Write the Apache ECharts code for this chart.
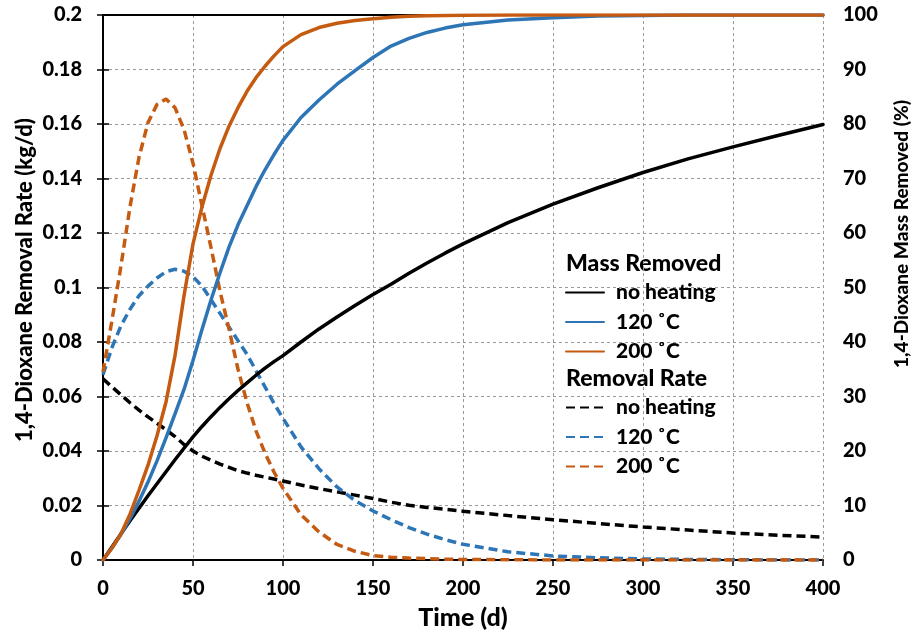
<!DOCTYPE html>
<html>
<head>
<meta charset="utf-8">
<script src="https://cdn.jsdelivr.net/npm/echarts@6/dist/echarts.min.js"></script>
<style>
html,body{margin:0;padding:0;background:#fff;}
#c{width:917px;height:636px;}
</style>
</head>
<body>
<div id="c"></div>
<script>
// Time (d)
var times = [0,5,10,15,20,25,30,35,40,45,50,55,60,65,70,75,80,85,90,95,100,110,120,130,140,150,160,170,180,190,200,225,250,275,300,325,350,375,400];

// Mass removed (%) - right axis
var massNoHeat = [0,2.4,4.8,7.2,9.5,11.8,14.0,16.2,18.4,20.5,22.6,24.5,26.3,28.0,29.6,31.1,32.5,33.9,35.2,36.4,37.5,40.0,42.4,44.6,46.7,48.7,50.6,52.6,54.5,56.3,58.0,61.9,65.3,68.3,71.1,73.6,75.8,77.9,79.9];
var mass120 = [0,2.2,4.7,7.6,10.8,14.3,18.2,22.4,26.8,31.3,36.6,42.3,47.7,52.7,57.4,61.5,65.0,68.5,71.6,74.4,77.0,81.2,84.4,87.3,89.8,92.2,94.3,95.7,96.8,97.6,98.2,99.1,99.5,99.8,99.9,100,100,100,100];
var mass200 = [0,2.2,4.8,8.4,12.8,17.4,22.8,29.0,37.5,48.5,58.0,64.8,70.6,75.5,79.6,83.0,86.0,88.5,90.6,92.5,94.2,96.4,97.7,98.5,99.0,99.3,99.6,99.75,99.85,99.9,99.95,100,100,100,100,100,100,100,100];

// Removal rate (kg/d) - left axis
var rateNoHeat = [0.0665,0.0635,0.0606,0.0577,0.055,0.0525,0.0502,0.0478,0.0453,0.0424,0.0400,0.0381,0.0366,0.0352,0.0340,0.0328,0.0319,0.0311,0.0304,0.0297,0.0290,0.0275,0.0262,0.0250,0.0238,0.0226,0.0212,0.0201,0.0193,0.0186,0.0179,0.0163,0.0148,0.0134,0.0121,0.0110,0.0099,0.0091,0.0084];
var rate120 = [0.068,0.078,0.086,0.092,0.097,0.1005,0.1035,0.1058,0.1067,0.106,0.104,0.1005,0.0955,0.0905,0.0855,0.0805,0.0755,0.0695,0.0635,0.0575,0.052,0.0415,0.0335,0.0268,0.0218,0.018,0.0148,0.0119,0.0095,0.0075,0.0058,0.003,0.0015,0.0008,0.0004,0.0002,0.0001,0,0];
var rate200 = [0.069,0.088,0.108,0.1296,0.1478,0.1605,0.1672,0.1692,0.1660,0.158,0.1456,0.1300,0.1147,0.0986,0.0848,0.0700,0.0578,0.0474,0.0392,0.0323,0.0263,0.0166,0.0103,0.0057,0.0032,0.0016,0.0010,0.0007,0.0005,0.0003,0.0002,0.0001,0,0,0,0,0,0,0];

var seriesNames = ['no heating', '120 ˚C', '200 ˚C'];
var rateNames = ['rate|no heating', 'rate|120 ˚C', 'rate|200 ˚C'];

var BLACK = '#000000', BLUE = '#2E75B6', ORANGE = '#C55A11';
var FONT = 'Lato';
var W = 900;

function pairs(arr) { return times.map(function (t, i) { return [t, arr[i]]; }); }

var chart = echarts.init(document.getElementById('c'), null, {renderer: 'canvas'});

function solid(name, data, color) {
  return {
    name: name, type: 'line', yAxisIndex: 1, data: pairs(data),
    symbol: 'none', smooth: false, z: 3,
    lineStyle: {color: color, width: 3.5, cap: 'round'},
    itemStyle: {color: color}
  };
}
function dashed(name, data, color) {
  return {
    name: name, type: 'line', yAxisIndex: 0, data: pairs(data),
    symbol: 'none', smooth: false, z: 2,
    lineStyle: {color: color, width: 3.5, type: [9, 5]},
    itemStyle: {color: color}
  };
}

var tickLabel = {color: '#000', fontFamily: FONT, fontWeight: W, fontSize: 20};
var gridLine = {show: true, lineStyle: {color: '#9a9a9a', width: 1, type: [3, 3]}};

var legendText = {color: '#000', fontFamily: FONT, fontWeight: W, fontSize: 21, lineHeight: 20, padding: [0, 0, 0, 7]};

var option = {
  animation: false,
  backgroundColor: '#fff',
  grid: {left: 103, right: 94, top: 15, bottom: 76, containLabel: false},
  xAxis: [{
    type: 'value', min: 0, max: 400, interval: 50, position: 'bottom',
    axisLine: {show: true, lineStyle: {color: '#000', width: 2}},
    axisTick: {show: true, inside: false, length: 6, lineStyle: {color: '#000', width: 1.5}},
    axisLabel: Object.assign({margin: 19}, tickLabel),
    splitLine: gridLine
  }, {
    type: 'value', min: 0, max: 400, position: 'top',
    axisLine: {show: true, onZero: false, lineStyle: {color: '#000', width: 2}},
    axisTick: {show: false}, axisLabel: {show: false}, splitLine: {show: false}
  }],
  yAxis: [{
    type: 'value', min: 0, max: 0.2, interval: 0.02, position: 'left',
    axisLine: {show: true, lineStyle: {color: '#000', width: 2}},
    axisTick: {show: true, inside: false, length: 6, lineStyle: {color: '#000', width: 1.5}},
    axisLabel: Object.assign({margin: 21}, tickLabel),
    splitLine: gridLine
  }, {
    type: 'value', min: 0, max: 100, interval: 10, position: 'right',
    axisLine: {show: true, lineStyle: {color: '#000', width: 2}},
    axisTick: {show: true, inside: false, length: 6, lineStyle: {color: '#000', width: 1.5}},
    axisLabel: Object.assign({margin: 20}, tickLabel),
    splitLine: {show: false}
  }],
  legend: [{
    data: seriesNames, orient: 'vertical', left: 565, top: 282,
    itemWidth: 38, itemHeight: 14, itemGap: 8.5, selectedMode: false,
    itemStyle: {opacity: 0},
    textStyle: legendText, padding: 0
  }, {
    data: rateNames, orient: 'vertical', left: 565, top: 397,
    itemWidth: 38, itemHeight: 14, itemGap: 8.5, selectedMode: false,
    itemStyle: {opacity: 0},
    textStyle: legendText, padding: 0,
    formatter: function (n) { return n.split('|')[1]; }
  }],
  graphic: [
    {type: 'text', x: 566, y: 264, style: {text: 'Mass Removed', fill: '#000', font: W + ' 23px ' + FONT, textAlign: 'left', textVerticalAlign: 'middle'}},
    {type: 'text', x: 566, y: 379, style: {text: 'Removal Rate', fill: '#000', font: W + ' 23px ' + FONT, textAlign: 'left', textVerticalAlign: 'middle'}},
    {type: 'text', x: 25, y: 280, rotation: Math.PI / 2, style: {text: '1,4-Dioxane Removal Rate (kg/d)', fill: '#000', font: W + ' 22px ' + FONT, textAlign: 'center', textVerticalAlign: 'middle'}},
    {type: 'text', x: 902, y: 234, rotation: Math.PI / 2, style: {text: '1,4-Dioxane Mass Removed (%)', fill: '#000', font: W + ' 19px ' + FONT, textAlign: 'center', textVerticalAlign: 'middle'}},
    {type: 'text', x: 463, y: 618, style: {text: 'Time (d)', fill: '#000', font: W + ' 25px ' + FONT, textAlign: 'center', textVerticalAlign: 'middle'}}
  ],
  series: [
    dashed(rateNames[0], rateNoHeat, BLACK),
    dashed(rateNames[1], rate120, BLUE),
    dashed(rateNames[2], rate200, ORANGE),
    solid(seriesNames[0], massNoHeat, BLACK),
    solid(seriesNames[1], mass120, BLUE),
    solid(seriesNames[2], mass200, ORANGE)
  ]
};
chart.setOption(option);
</script>
</body>
</html>
